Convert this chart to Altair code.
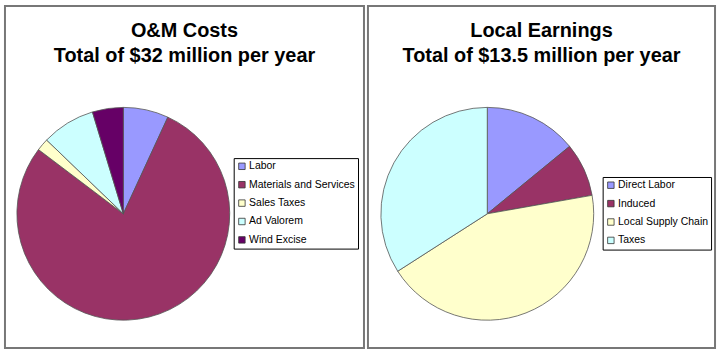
import altair as alt
import pandas as pd

# Left chart: O&M costs ($ million per year)
om_labels = ["Labor", "Materials and Services", "Sales Taxes", "Ad Valorem", "Wind Excise"]
om_values = [2.2, 25.1, 0.6, 2.6, 1.5]
om_colors = ["#9999FF", "#993366", "#FFFFCC", "#CCFFFF", "#660066"]

# Right chart: Local earnings ($ million per year)
le_labels = ["Direct Labor", "Induced", "Local Supply Chain", "Taxes"]
le_values = [1.9, 1.1, 5.9, 4.6]
le_colors = ["#9999FF", "#993366", "#FFFFCC", "#CCFFFF"]

om_title = ["O&M Costs", "Total of $32 million per year"]
le_title = ["Local Earnings", "Total of $13.5 million per year"]

FONT = "Liberation Sans"


def panel(labels, values, colors, title, w, h, cx, cy, lx, ly):
    df = pd.DataFrame({"label": labels, "value": values, "idx": list(range(len(labels)))})
    pie = alt.Chart(df).mark_arc(
        outerRadius=107, stroke="#555555", strokeWidth=0.8
    ).encode(
        theta=alt.Theta("value:Q", stack=True),
        order=alt.Order("idx:Q"),
        color=alt.Color(
            "label:N",
            scale=alt.Scale(domain=labels, range=colors),
            legend=alt.Legend(
                title=None, orient="none", legendX=lx, legendY=ly,
                symbolType="square", symbolSize=42, symbolStrokeColor="#333333",
                symbolStrokeWidth=0.8, labelFont=FONT, labelFontSize=10.5,
                labelColor="#000000", labelOffset=2, rowPadding=7.5,
                strokeColor="#000000", padding=3, labelLimit=200,
            ),
        ),
        x=alt.value(cx),
        y=alt.value(cy),
    )
    tdf = pd.DataFrame({"t": title, "row": [0, 1]})
    t1 = alt.Chart(tdf).transform_filter("datum.row == 0").mark_text(
        font=FONT, fontSize=20, fontWeight="bold", color="#000000", align="center", baseline="alphabetic"
    ).encode(text="t:N", x=alt.value(w / 2), y=alt.value(31))
    t2 = alt.Chart(tdf).transform_filter("datum.row == 1").mark_text(
        font=FONT, fontSize=20, fontWeight="bold", color="#000000", align="center", baseline="alphabetic"
    ).encode(text="t:N", x=alt.value(w / 2), y=alt.value(56))
    return alt.layer(pie, t1, t2).properties(width=w, height=h)


left = panel(om_labels, om_values, om_colors, om_title, 361, 344, 119, 209, 230, 153)
right = panel(le_labels, le_values, le_colors, le_title, 349, 344, 120, 209, 236, 172)

chart = alt.hconcat(left, right, spacing=2).resolve_scale(color="independent").resolve_legend(
    color="independent"
).properties(
    padding={"left": 4, "top": 4, "right": 4, "bottom": 3},
    background="#FFFFFF",
).configure_view(stroke="#777777", strokeWidth=2)

chart.save("out.html", embed_options={"renderer": "svg", "actions": False})
